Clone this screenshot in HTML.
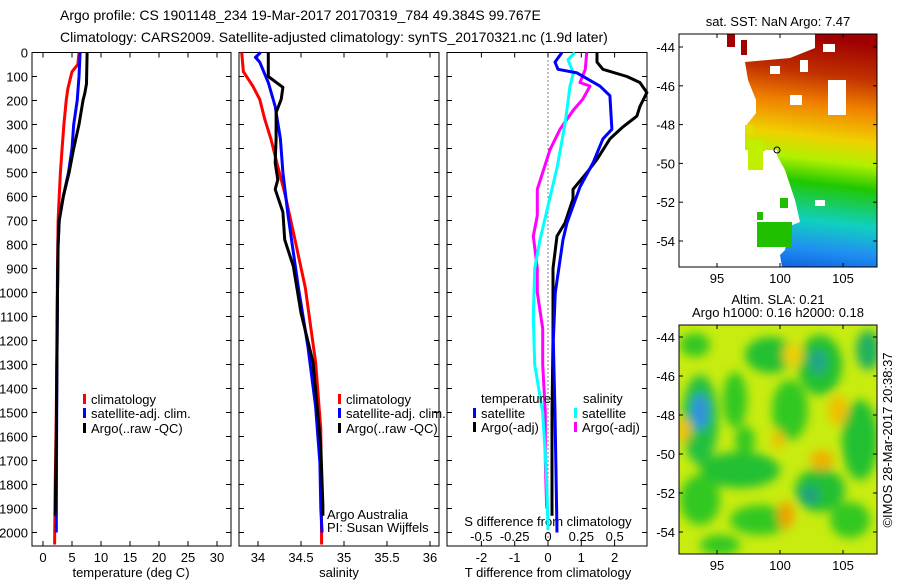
<!DOCTYPE html>
<html><head><meta charset="utf-8"><style>
html,body{margin:0;padding:0;background:#fff;}
svg{display:block;font-family:"Liberation Sans",sans-serif;}
</style></head><body>
<svg id="chart" width="900" height="580" viewBox="0 0 900 580">
<defs>
<linearGradient id="sstg" x1="0.55" y1="0" x2="0.45" y2="1">
<stop offset="0" stop-color="#a00000"/><stop offset="0.15" stop-color="#c03000"/>
<stop offset="0.28" stop-color="#f08000"/><stop offset="0.42" stop-color="#f0d000"/>
<stop offset="0.52" stop-color="#b0f000"/><stop offset="0.62" stop-color="#20c800"/>
<stop offset="0.78" stop-color="#10d0c0"/><stop offset="0.9" stop-color="#2090f0"/>
<stop offset="1" stop-color="#1060e0"/></linearGradient>
<filter id="blur" x="-50%" y="-50%" width="200%" height="200%"><feGaussianBlur stdDeviation="5"/></filter>
<clipPath id="c1"><rect x="679" y="34" width="198" height="233"/></clipPath>
<clipPath id="c2"><rect x="679" y="325" width="198" height="229"/></clipPath>
</defs>
<g font-size="14">
<text x="60" y="20">Argo profile: CS 1901148_234 19-Mar-2017 20170319_784 49.384S 99.767E</text>
<text x="60" y="42">Climatology: CARS2009. Satellite-adjusted climatology: synTS_20170321.nc (1.9d later)</text>
</g>
<g id="panels"></g>
<g id="maps">
<text x="778" y="26" font-size="13" text-anchor="middle">sat. SST: NaN Argo: 7.47</text>
<g clip-path="url(#c1)">
<rect x="679" y="34" width="198" height="233" fill="url(#sstg)"/>
<polygon fill="#fff" points="679,34 815,34 815,48 790,58 745,62 748,80 756,100 756,113 745,127 745,150 775,152 785,170 795,200 800,222 790,226 785,250 780,255 782,267 679,267"/>
<rect x="727" y="34" width="8" height="13" fill="#a00000"/><rect x="741" y="40" width="6" height="15" fill="#a00000"/>
<rect x="745" y="125" width="8" height="10" fill="#e0e000"/><rect x="748" y="140" width="15" height="30" fill="#c0f000"/>
<rect x="757" y="222" width="35" height="25" fill="#20c000"/><rect x="757" y="212" width="6" height="8" fill="#20c000"/>
<rect x="828" y="80" width="18" height="35" fill="#fff"/><rect x="823" y="44" width="12" height="8" fill="#fff"/>
<rect x="790" y="95" width="12" height="10" fill="#fff"/><rect x="770" y="66" width="10" height="8" fill="#fff"/>
<rect x="800" y="60" width="8" height="12" fill="#fff"/><rect x="765" y="150" width="12" height="12" fill="#fff"/>
<rect x="815" y="200" width="10" height="6" fill="#fff"/><rect x="780" y="198" width="8" height="10" fill="#20c000"/>
</g>
<rect x="679" y="34" width="198" height="233" fill="none" stroke="#000"/>
<text x="778" y="304" font-size="13" text-anchor="middle">Altim. SLA: 0.21</text>
<text x="778" y="317" font-size="13" text-anchor="middle">Argo h1000: 0.16 h2000: 0.18</text>
<g clip-path="url(#c2)">
<rect x="679" y="325" width="198" height="229" fill="#c8ec10"/>
<g filter="url(#blur)">
<ellipse cx="700" cy="420" rx="18" ry="45" fill="#20c040"/>
<ellipse cx="700" cy="412" rx="9" ry="18" fill="#3090e0"/>
<ellipse cx="770" cy="355" rx="25" ry="18" fill="#20c030"/>
<ellipse cx="820" cy="365" rx="22" ry="30" fill="#20c030"/>
<ellipse cx="818" cy="362" rx="8" ry="12" fill="#20a090"/>
<ellipse cx="868" cy="350" rx="12" ry="20" fill="#20b060"/>
<ellipse cx="740" cy="470" rx="40" ry="18" fill="#20c030"/>
<ellipse cx="820" cy="490" rx="25" ry="22" fill="#20c030"/>
<ellipse cx="810" cy="495" rx="10" ry="10" fill="#20a080"/>
<ellipse cx="760" cy="520" rx="30" ry="15" fill="#30c820"/>
<ellipse cx="860" cy="440" rx="18" ry="40" fill="#20c030"/>
<ellipse cx="700" cy="500" rx="20" ry="25" fill="#30c820"/>
<ellipse cx="790" cy="410" rx="18" ry="30" fill="#30c820"/>
<ellipse cx="735" cy="400" rx="12" ry="28" fill="#30c820"/>
<ellipse cx="850" cy="520" rx="20" ry="18" fill="#30c820"/>
<ellipse cx="720" cy="545" rx="20" ry="10" fill="#30c820"/>
<ellipse cx="745" cy="440" rx="10" ry="14" fill="#30c820"/>
<ellipse cx="695" cy="345" rx="15" ry="12" fill="#30c820"/>
<ellipse cx="838" cy="410" rx="10" ry="15" fill="#f0c000"/>
<ellipse cx="822" cy="460" rx="12" ry="10" fill="#f0b000"/>
<ellipse cx="786" cy="515" rx="8" ry="14" fill="#f0a000"/>
<ellipse cx="793" cy="355" rx="10" ry="12" fill="#f0d000"/>
<ellipse cx="778" cy="440" rx="6" ry="10" fill="#f0c000"/>
<ellipse cx="683" cy="430" rx="8" ry="12" fill="#f0c000"/>
</g></g>
<rect x="679" y="325" width="198" height="229" fill="none" stroke="#000"/>
<text transform="translate(892,440) rotate(-90)" font-size="13" text-anchor="middle">©IMOS 28-Mar-2017 20:38:37</text>
</g>
</svg>
<script>
// ---- data ----
const depthTicks = [0,100,200,300,400,500,600,700,800,900,1000,1100,1200,1300,1400,1500,1600,1700,1800,1900,2000];
const tempTicks = [0,5,10,15,20,25,30];
const salTicks = [34,34.5,35,35.5,36];
const tdiffTicks = [-2,-1,0,1,2];
const sdiffTicks = [-0.5,-0.25,0,0.25,0.5];
const sdiffTickLabels = ["-0.5","-0.25","0","0.25","0.5"];
const latTicks = [-44,-46,-48,-50,-52,-54];
const lonTicks = [95,100,105];

const tClimDepth = [0,50,80,150,200,300,400,500,600,700,900,1200,1500,1800,2050];
const tClimVal   = [6.2,6.0,5.0,4.3,4.0,3.6,3.3,3.0,2.8,2.6,2.5,2.4,2.3,2.1,2.0];
const tSatDepth  = [0,100,200,300,400,500,600,700,800,1000,1300,1600,2000];
const tSatVal    = [6.4,6.2,5.9,5.3,5.0,4.4,3.5,2.8,2.6,2.5,2.4,2.35,2.3];
const tArgoDepth = [0,130,170,200,300,400,500,600,700,800,1000,1300,1600,1930];
const tArgoVal   = [7.6,7.5,7.2,6.9,6.2,5.3,4.5,3.5,2.8,2.6,2.5,2.4,2.3,2.1];

const sClimDepth = [0,80,140,195,280,360,475,585,780,980,1110,1290,1570,2050];
const sClimVal   = [33.81,33.83,33.94,34.02,34.08,34.15,34.23,34.31,34.43,34.55,34.60,34.67,34.73,34.74];
const sSatDepth  = [0,20,40,125,225,360,500,680,980,1225,1475,1710,1900,2000];
const sSatVal    = [34.03,33.97,34.02,34.12,34.20,34.26,34.29,34.35,34.47,34.58,34.67,34.72,34.73,34.745];
const sArgoDepth = [0,100,145,195,250,360,460,530,570,665,780,890,1085,1290,1640,1890,1930];
const sArgoVal   = [34.12,34.12,34.29,34.27,34.21,34.21,34.20,34.23,34.20,34.29,34.31,34.41,34.50,34.64,34.73,34.755,34.755];

const dtSatDepth = [0,40,70,85,140,180,320,360,460,560,710,780,1000,1200,1500,2000];
const dtSatVal   = [0.42,0.21,0.3,0.87,1.56,1.86,1.92,1.65,1.35,0.96,0.57,0.45,0.22,0.16,0.21,0.27];
const dtArgoDepth = [0,40,70,100,125,167,225,265,310,360,445,500,570,610,710,765,900,1200,1500,1930];
const dtArgoVal   = [1.47,1.47,1.65,2.37,2.76,2.97,2.76,2.67,2.25,1.86,1.47,1.17,0.75,0.75,0.51,0.27,0.15,0.15,0.12,0.12];
const dsSatDepth = [0,30,85,140,290,475,640,780,900,1100,1300,1500,1780,1990];
const dsSatVal   = [0.20,0.15,0.19,0.165,0.13,0.07,0.0,-0.06,-0.10,-0.11,-0.10,-0.04,-0.01,0.0];
const dsArgoDepth = [0,70,125,140,195,240,320,405,500,570,680,765,900,1000,1150,1300,1500,1700,1900];
const dsArgoVal   = [0.29,0.28,0.24,0.315,0.26,0.19,0.09,0.015,-0.04,-0.08,-0.08,-0.11,-0.08,-0.08,-0.04,-0.04,-0.02,-0.02,-0.01];

// ---- drawing ----
const NS = "http://www.w3.org/2000/svg";
const G = document.getElementById('panels');
const TOP = 52.5, BOT = 546, PXM = 0.24;
const yD = d => TOP + d * PXM;
function mk(tag, attrs, parent){ const e=document.createElementNS(NS,tag); for(const k in attrs) e.setAttribute(k,attrs[k]); (parent||G).appendChild(e); return e; }
function txt(x,y,s,anchor,size,parent){ const t=mk('text',{x:x,y:y,'text-anchor':anchor||'start','font-size':size||13},parent); t.textContent=s; return t; }

const panels = [
 {name:'temperature-panel', x0:32, x1:231, xmap:v=>43+v*5.8},
 {name:'salinity-panel', x0:239, x1:439, xmap:v=>258+(v-34)*86},
 {name:'difference-panel', x0:447, x1:647, xmap:v=>548+v*33.3}
];
const sdx = v => 548 + v*133.3;

panels.forEach((p,i)=>{
  const g = mk('g',{});
  
  
  const r = mk('rect',{x:p.x0,y:TOP,width:p.x1-p.x0,height:BOT-TOP,fill:'none',stroke:'#000','stroke-width':1},g);
  
  
  depthTicks.forEach(d=>{
    const y=yD(d);
    mk('line',{x1:p.x0,y1:y,x2:p.x0+5,y2:y,stroke:'#000'},g);
    mk('line',{x1:p.x1,y1:y,x2:p.x1-5,y2:y,stroke:'#000'},g);
    if(i===0){ const t=txt(28,y+5,String(d),'end',13,g);
      
       }
  });
  p.g = g;
});
const ticksFor = [[tempTicks,tempTicks.map(String)],[salTicks,salTicks.map(String)],[tdiffTicks,tdiffTicks.map(String)]];
panels.forEach((p,i)=>{
  const [vals,labs]=ticksFor[i];
  vals.forEach((v,k)=>{ const x=p.xmap(v);
    mk('line',{x1:x,y1:TOP,x2:x,y2:TOP+5,stroke:'#000'},p.g);
    mk('line',{x1:x,y1:BOT,x2:x,y2:BOT-5,stroke:'#000'},p.g);
    const t=txt(x,562,labs[k],'middle',13,p.g);
    
    
  });
});
sdiffTicks.forEach((v,k)=>{ const t=txt(sdx(v),541,sdiffTickLabels[k],'middle',13,panels[2].g);
  
   });
[['temperature (deg C)',131,'x-axis-title-temperature'],['salinity',339,'x-axis-title-salinity'],['T difference from climatology',548,'x-axis-title-t-diff']].forEach((a,i)=>{
  const t=txt(a[1],577,a[0],'middle',13,panels[i].g);
  
  
});
const st=txt(548,526,'S difference from climatology','middle',13,panels[2].g);



const zl = mk('line',{x1:548,y1:TOP,x2:548,y2:BOT,stroke:'#000','stroke-dasharray':'1,3'},panels[2].g);



function series(p, xmap, depths, vals, color, name){
  const pts = depths.map((d,k)=>xmap(vals[k]).toFixed(1)+','+yD(d).toFixed(1)).join(' ');
  const pl = mk('polyline',{points:pts,fill:'none',stroke:color,'stroke-width':3,'stroke-linejoin':'round'},p.g);
  
  
}
const P=panels;
series(P[0],P[0].xmap,tClimDepth,tClimVal,'#ff0000','temp-climatology-line');
series(P[0],P[0].xmap,tSatDepth,tSatVal,'#0000ff','temp-satellite-line');
series(P[0],P[0].xmap,tArgoDepth,tArgoVal,'#000000','temp-argo-line');
series(P[1],P[1].xmap,sClimDepth,sClimVal,'#ff0000','sal-climatology-line');
series(P[1],P[1].xmap,sSatDepth,sSatVal,'#0000ff','sal-satellite-line');
series(P[1],P[1].xmap,sArgoDepth,sArgoVal,'#000000','sal-argo-line');
series(P[2],sdx,dsArgoDepth,dsArgoVal,'#ff00ff','s-diff-argo-line');
series(P[2],sdx,dsSatDepth,dsSatVal,'#00ffff','s-diff-satellite-line');
series(P[2],P[2].xmap,dtArgoDepth,dtArgoVal,'#000000','t-diff-argo-line');
series(P[2],P[2].xmap,dtSatDepth,dtSatVal,'#0000ff','t-diff-satellite-line');

function legend(p,x,y,color,label){
  const g=mk('g',{},p.g);
  
  
  mk('rect',{x:x,y:y-10,width:3,height:10,fill:color},g);
  txt(x+8,y,label,'start',13,g);
}
legend(P[0],83,404,'#ff0000','climatology');
legend(P[0],83,418,'#0000ff','satellite-adj. clim.');
legend(P[0],83,433,'#000000','Argo(..raw -QC)');
legend(P[1],338,404,'#ff0000','climatology');
legend(P[1],338,418,'#0000ff','satellite-adj. clim.');
legend(P[1],338,433,'#000000','Argo(..raw -QC)');
const lt1=txt(481,403,'temperature','start',13,P[2].g);


const lt2=txt(583,403,'salinity','start',13,P[2].g);


legend(P[2],473,418,'#0000ff','satellite');
legend(P[2],473,432,'#000000','Argo(-adj)');
legend(P[2],574,418,'#00ffff','satellite');
legend(P[2],574,432,'#ff00ff','Argo(-adj)');
const a1=txt(327,519,'Argo Australia','start',13,P[1].g);


const a2=txt(327,532,'PI: Susan Wijffels','start',13,P[1].g);



const M = document.getElementById('maps');
function mapAxes(x0,x1,yTop,yBot,latY0,latY1,name){
  const g=mk('g',{},M);
  
  
  latTicks.forEach(l=>{ const y=latY0+(l+44)/(-10)*(latY1-latY0);
    mk('line',{x1:x0,y1:y,x2:x0+4,y2:y,stroke:'#000'},g);
    mk('line',{x1:x1,y1:y,x2:x1-4,y2:y,stroke:'#000'},g);
    const t=txt(x0-4,y+5,String(l),'end',13,g);
    
    
  });
  lonTicks.forEach(l=>{ const x=717+(l-95)*12.6;
    mk('line',{x1:x,y1:yBot,x2:x,y2:yBot-4,stroke:'#000'},g);
    mk('line',{x1:x,y1:yTop,x2:x,y2:yTop+4,stroke:'#000'},g);
    const t=txt(x,yBot+16,String(l),'middle',13,g);
    
    
  });
}
mapAxes(679,877,34,267,47,241,'sst-map-axes');
mapAxes(679,877,325,554,337,532,'sla-map-axes');
const pos = mk('circle',{cx:777,cy:150,r:3,fill:'none',stroke:'#000'},M);


</script>
</body></html>
